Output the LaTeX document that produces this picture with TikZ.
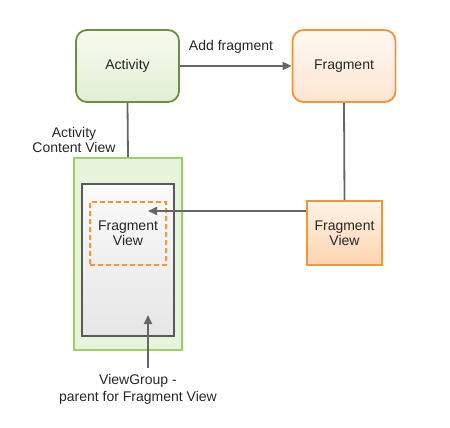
\documentclass[tikz,border=0pt]{standalone}
\usepackage{fontspec}
\setmainfont{Liberation Sans}
\usetikzlibrary{arrows.meta}
\definecolor{greenborder}{HTML}{6B9140}
\definecolor{greentop}{HTML}{F6FAF0}
\definecolor{greenbot}{HTML}{E2EFD4}
\definecolor{lightgreenborder}{HTML}{9FD065}
\definecolor{lightgreenfill}{HTML}{E8F3DC}
\definecolor{orangeborder}{HTML}{F79433}
\definecolor{orangetop}{HTML}{FFF8F2}
\definecolor{orangebot}{HTML}{FDE6D2}
\definecolor{fvtop}{HTML}{FFF3E6}
\definecolor{fvbot}{HTML}{FDD5B0}
\definecolor{grayborder}{HTML}{5A5A5A}
\definecolor{graytop}{HTML}{FAFAFA}
\definecolor{graybot}{HTML}{E6E6E6}
\definecolor{linegray}{HTML}{666666}
\tikzset{
  x=1pt, y=-1pt,
  every node/.style={font=\fontsize{14}{15}\selectfont, text=black!85, inner sep=0pt},
  roundbox/.style={rounded corners=11pt, line width=1.8pt, minimum width=103pt, minimum height=72pt},
  actbox/.style={roundbox, draw=greenborder, top color=greentop, bottom color=greenbot},
  fragbox/.style={roundbox, draw=orangeborder, top color=orangetop, bottom color=orangebot},
  outerbox/.style={draw=lightgreenborder, fill=lightgreenfill, line width=1.6pt, minimum width=108pt, minimum height=192pt},
  innerbox/.style={draw=grayborder, top color=graytop, bottom color=graybot, line width=1.6pt, minimum width=92pt, minimum height=152pt},
  dashbox/.style={draw=orangeborder, dashed, dash pattern=on 5pt off 3pt, line width=1.5pt, minimum width=76pt, minimum height=63pt, align=center},
  fvbox/.style={draw=orangeborder, top color=fvtop, bottom color=fvbot, line width=1.6pt, minimum width=75pt, minimum height=64pt, align=center},
  conn/.style={draw=linegray, line width=1.8pt},
  arr/.style={conn, -{Triangle[length=9pt,width=8pt]}},
  lbl/.style={align=center}
}
\begin{document}
\begin{tikzpicture}
\useasboundingbox (0,0) rectangle (450,428);
\node[actbox] (act) at (127.5,66) {Activity};
\node[fragbox] (frag) at (344,66) {Fragment};
\node[outerbox] (outer) at (128,254) {};
\node[innerbox] (inner) at (128,260) {};
\node[dashbox] (dfv) at (128,233.5) {Fragment\\View};
\node[fvbox] (fv) at (344.5,233) {Fragment\\View};
\node[lbl] (addlbl) at (231,47) {Add fragment};
\node[lbl] (aclbl) at (74,140) {Activity\\Content View};
\node[lbl, font=\fontsize{14}{17}\selectfont] (vglbl) at (138,389) {ViewGroup -\\parent for Fragment View};
\coordinate (fvtip) at (148,211);
\coordinate (vgtip) at (148,315);
\coordinate (vgstart) at (148,368);
\draw[arr] (act.east) -- (frag.west);
\draw[conn] (act.south) -- (outer.north);
\draw[conn] (frag.south) -- (fv.north);
\draw[arr] (fv.west |- fvtip) -- (fvtip);
\draw[arr] (vgstart) -- (vgtip);
\end{tikzpicture}
\end{document}
